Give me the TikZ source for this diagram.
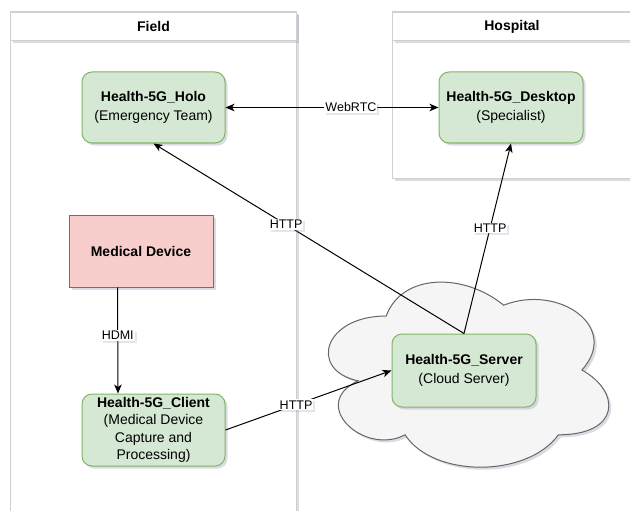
\documentclass[tikz,border=0pt]{standalone}
\usepackage{fontspec}
\setmainfont{Liberation Sans}
\usetikzlibrary{arrows.meta,shadows}
\definecolor{gfill}{HTML}{D5E8D4}
\definecolor{gline}{HTML}{82B366}
\definecolor{rfill}{HTML}{F8CECC}
\definecolor{rline}{HTML}{B85450}
\definecolor{cfill}{HTML}{F5F5F5}
\definecolor{cline}{HTML}{666666}
\definecolor{kline}{HTML}{D0D0D0}
\definecolor{shcol}{HTML}{9A9AB8}
\tikzset{
  sh/.style={drop shadow={shadow xshift=2.5pt,shadow yshift=-2.5pt,fill=shcol,opacity=0.35}},
  lsh/.style={drop shadow={shadow xshift=2pt,shadow yshift=-2pt,fill=shcol,opacity=0.25}},
  gbox/.style={draw=gline, fill=gfill, line width=1pt, rounded corners=10pt,
    minimum width=143pt, minimum height=71pt, inner sep=0pt, align=center,
    font=\fontsize{14}{18.5}\selectfont, sh},
  rbox/.style={draw=rline, fill=rfill, line width=1pt,
    minimum width=144pt, minimum height=72pt, inner sep=0pt, align=center,
    font=\fontsize{14}{17}\selectfont\bfseries, sh},
  cont/.style={draw=kline, fill=white, line width=1pt, sh},
  hdr/.style={draw=kline, fill=white, line width=1pt, sh, anchor=north west,
    minimum height=28pt, inner sep=0pt, font=\fontsize{14}{17}\selectfont\bfseries},
  lab/.style={fill=white, inner sep=1pt, font=\fontsize{12.5}{14}\selectfont, lsh},
  conn/.style={draw=black, line width=1pt},
  tip/.style={-{Stealth[length=9pt,width=7.5pt,inset=2.5pt]}},
  btip/.style={{Stealth[length=9pt,width=7.5pt,inset=2.5pt]}-{Stealth[length=9pt,width=7.5pt,inset=2.5pt]}}
}
\begin{document}
\begin{tikzpicture}[x=1pt,y=-1pt]
\useasboundingbox (0,0) rectangle (630,511);
\clip (0,0) rectangle (630,511);
\fill[white] (0,0) rectangle (630,511);
% containers
\path[cont] (10,12) rectangle (296,530);
\node[hdr, minimum width=286pt] (fieldh) at (10,12) {Field};
\path[cont] (392,12) rectangle (631,178);
\node[hdr, minimum width=239pt] (hosph) at (392,12) {Hospital};
% cloud
\path[draw=cline, fill=cfill, line width=1pt, sh]
  (386.25,316) .. controls (323.65,316) and (308,370) .. (358.08,380.8)
  .. controls (308,404.56) and (364.34,456.4) .. (405.03,434.8)
  .. controls (433.2,478) and (527.1,478) .. (558.4,434.8)
  .. controls (621,434.8) and (621,391.6) .. (581.9,370)
  .. controls (621,326.8) and (558.4,283.6) .. (503.6,305.2)
  .. controls (464.5,272.8) and (401.9,272.8) .. (386.25,316) -- cycle;
% nodes
\node[gbox] (holo) at (153.5,107.5) {{\bfseries Health-5G\_Holo}\\(Emergency Team)};
\node[gbox, minimum width=144pt] (desk) at (511,107.5) {{\bfseries Health-5G\_Desktop}\\(Specialist)};
\node[rbox] (md) at (141,251) {Medical Device};
\node[gbox, font=\fontsize{14}{17.3}\selectfont, minimum height=72pt] (client) at (153.5,430)
  {{\bfseries Health-5G\_Client}\\(Medical Device\\Capture and\\Processing)};
\node[gbox, minimum width=144pt, minimum height=73pt] (server) at (464,370.5)
  {{\bfseries Health-5G\_Server}\\(Cloud Server)};
% connectors
\draw[conn, btip] (holo.east) -- node[lab, pos=0.589] (l1) {WebRTC} (desk.west);
\draw[conn, tip] (server.north) -- node[lab, pos=0.573] (l2) {HTTP} (holo.south);
\draw[conn, tip] (server.north) -- node[lab, pos=0.556] (l3) {HTTP} (desk.south);
\draw[conn, tip] ([xshift=-23.5pt]md.south) -- node[lab, pos=0.45] (l4) {HDMI} ([xshift=-35.5pt]client.north);
\draw[conn, tip] (client.east) -- node[lab, pos=0.425] (l5) {HTTP} (server.west);
\end{tikzpicture}
\end{document}
